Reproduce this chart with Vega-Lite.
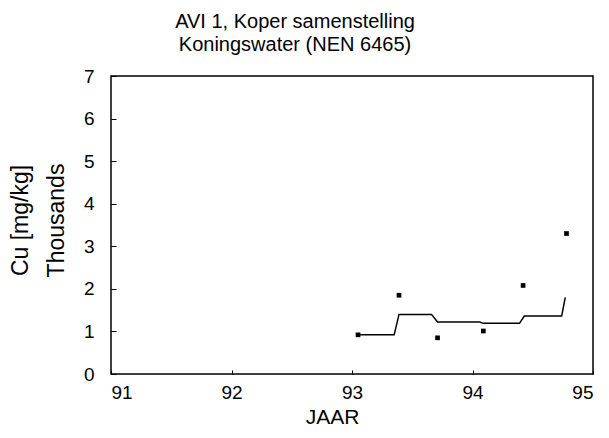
{
  "$schema": "https://vega.github.io/schema/vega-lite/v6.json",
  "width": 482,
  "height": 298,
  "autosize": {"type": "none"},
  "padding": {"left": 111, "top": 76, "right": 16, "bottom": 64},
  "background": "white",
  "config": {
    "font": "Liberation Sans",
    "view": {"stroke": "black", "strokeWidth": 1.5},
    "axis": {"grid": false, "domain": false, "tickColor": "black", "labelColor": "black", "titleColor": "black", "labelFont": "Liberation Sans", "titleFont": "Liberation Sans", "titleFontWeight": "normal"}
  },
  "title": {
    "text": ["AVI 1, Koper samenstelling", "Koningswater (NEN 6465)"],
    "font": "Liberation Sans",
    "fontSize": 20,
    "fontWeight": "normal",
    "color": "black",
    "anchor": "middle",
    "dx": -57,
    "offset": 12,
    "lineHeight": 23
  },
  "datasets": {
    "meas": [
      {"jaar": 93.05, "cu": 0.92},
      {"jaar": 93.39, "cu": 1.85},
      {"jaar": 93.71, "cu": 0.85},
      {"jaar": 94.09, "cu": 1.01},
      {"jaar": 94.42, "cu": 2.08},
      {"jaar": 94.78, "cu": 3.3}
    ],
    "avg": [
      {"jaar": 93.05, "cu": 0.92},
      {"jaar": 93.35, "cu": 0.92},
      {"jaar": 93.39, "cu": 1.4},
      {"jaar": 93.66, "cu": 1.4},
      {"jaar": 93.71, "cu": 1.22},
      {"jaar": 94.06, "cu": 1.22},
      {"jaar": 94.09, "cu": 1.19},
      {"jaar": 94.39, "cu": 1.19},
      {"jaar": 94.43, "cu": 1.36},
      {"jaar": 94.74, "cu": 1.36},
      {"jaar": 94.77, "cu": 1.8}
    ]
  },
  "encoding": {
    "x": {
      "field": "jaar", "type": "quantitative",
      "scale": {"domain": [91, 95], "nice": false, "zero": false},
      "axis": {"values": [91, 92, 93, 94, 95], "format": "d", "title": "JAAR", "tickSize": -4, "labelPadding": 13, "labelFontSize": 19, "titleFontSize": 21, "titleX": 221, "titleY": 49, "titleBaseline": "alphabetic", "titleAnchor": "start", "titleAlign": "center"}
    },
    "y": {
      "field": "cu", "type": "quantitative",
      "scale": {"domain": [0, 7], "nice": false},
      "axis": {"values": [0, 1, 2, 3, 4, 5, 6, 7], "format": "d", "title": ["Cu [mg/kg]", "Thousands"], "tickSize": -5, "labelPadding": 22, "labelFontSize": 19, "titleFontSize": 23, "titleLineHeight": 36, "titleX": -79, "titleY": 144, "titleAlign": "center", "titleAnchor": "start"}
    }
  },
  "layer": [
    {
      "data": {"name": "avg"},
      "mark": {"type": "line", "color": "black", "strokeWidth": 1.5}
    },
    {
      "data": {"name": "meas"},
      "mark": {"type": "point", "shape": "square", "filled": true, "color": "black", "size": 22, "opacity": 1}
    }
  ]
}
